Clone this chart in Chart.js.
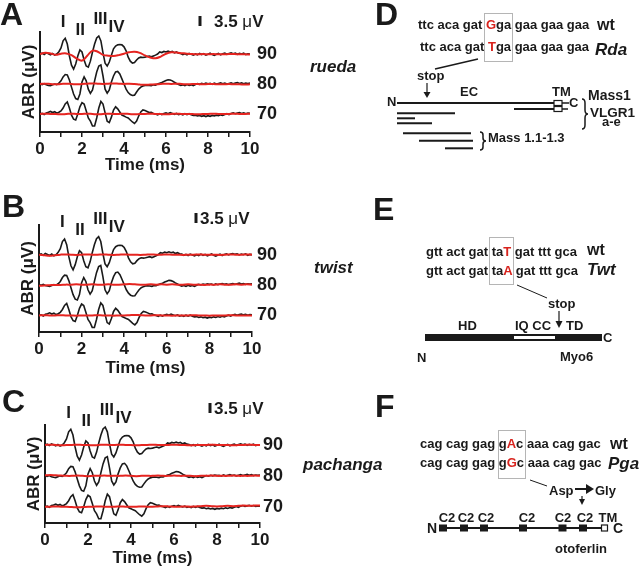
<!DOCTYPE html>
<html>
<head>
<meta charset="utf-8">
<script src="https://cdn.jsdelivr.net/npm/chart.js@4.4.1/dist/chart.umd.min.js"></script>
<style>
  html, body { margin: 0; background: #fff; }
  #fig { position: relative; width: 640px; height: 566px; overflow: hidden; }
  #fig canvas { position: absolute; left: 0; }
  #art { position: absolute; left: 0; top: 0; pointer-events: none; }
  #art text { font-family: 'Liberation Sans', Arial, sans-serif; font-weight: bold; fill: #1a1a1a; }
  #art .it { font-style: italic; }
  #art .mut { fill: #d8231d; }
  #art line, #art path.br { stroke: #1a1a1a; fill: none; }
</style>
</head>
<body>
<div id="fig">
  <canvas id="chartA" width="300" height="185" style="top:0"></canvas>
  <canvas id="chartB" width="300" height="190" style="top:190px"></canvas>
  <canvas id="chartC" width="300" height="191" style="top:375px"></canvas>

  <svg id="art" width="640" height="566">
    <!-- panel letters -->
    <text x="0" y="25" font-size="32">A</text>
    <text x="2" y="217" font-size="32">B</text>
    <text x="2" y="412" font-size="32">C</text>
    <text x="375" y="25" font-size="32">D</text>
    <text x="373" y="220" font-size="32">E</text>
    <text x="375" y="417" font-size="32">F</text>

    <!-- mutant names -->
    <text class="it" x="310" y="72" font-size="17">rueda</text>
    <text class="it" x="314" y="273" font-size="17">twist</text>
    <text class="it" x="303" y="470" font-size="17">pachanga</text>

    <!-- D : Mass1 / VLGR1 -->
    <text x="418" y="29" font-size="13">ttc aca gat <tspan class="mut">G</tspan>ga gaa gaa gaa</text>
    <text x="420" y="51" font-size="13">ttc aca gat <tspan class="mut">T</tspan>ga gaa gaa gaa</text>
    <text x="597" y="30" font-size="16">wt</text>
    <text class="it" x="595" y="55" font-size="17">Rda</text>
    <rect x="484.5" y="13.5" width="28" height="48" fill="none" stroke="#b5b5b5"/>
    <line x1="478" y1="59" x2="435" y2="69" stroke-width="1.5"/>
    <text x="417" y="80" font-size="13">stop</text>
    <line x1="427" y1="83" x2="427" y2="93" stroke-width="1.2"/>
    <path d="M423.5 92 L430.5 92 L427 98 Z" fill="#1a1a1a"/>
    <text x="460" y="96" font-size="13">EC</text>
    <text x="552" y="96" font-size="13">TM</text>
    <text x="387" y="106" font-size="13">N</text>
    <line x1="397" y1="103" x2="554" y2="103" stroke-width="2"/>
    <line x1="514" y1="109" x2="554" y2="109" stroke-width="2"/>
    <rect x="554" y="100.5" width="8" height="5" fill="#fff" stroke="#1a1a1a" stroke-width="1.2"/>
    <rect x="554" y="106.5" width="8" height="5" fill="#fff" stroke="#1a1a1a" stroke-width="1.2"/>
    <line x1="562" y1="103" x2="569" y2="103" stroke-width="1.5"/>
    <line x1="562" y1="109" x2="568" y2="109" stroke-width="1.5"/>
    <text x="569" y="107" font-size="13">C</text>
    <path class="br" stroke-width="1.5" d="M582 99 Q585 99 585 103 L585 110 Q585 114 588 114 Q585 114 585 118 L585 125 Q585 129 582 129"/>
    <text x="588" y="100" font-size="14">Mass1</text>
    <text x="590" y="117" font-size="13.5">VLGR1</text>
    <text x="602" y="126" font-size="13">a-e</text>
    <line x1="397" y1="113.3" x2="455" y2="113.3" stroke-width="2"/>
    <line x1="397" y1="118.3" x2="415" y2="118.3" stroke-width="2"/>
    <line x1="397" y1="123.3" x2="432" y2="123.3" stroke-width="2"/>
    <line x1="403" y1="133.3" x2="471" y2="133.3" stroke-width="2"/>
    <line x1="419" y1="140.7" x2="473" y2="140.7" stroke-width="2"/>
    <line x1="445" y1="148.3" x2="473" y2="148.3" stroke-width="2"/>
    <path class="br" stroke-width="1.5" d="M480 132 Q483 132 483 135 L483 138 Q483 141 486 141 Q483 141 483 144 L483 147 Q483 150 480 150"/>
    <text x="488" y="142" font-size="13">Mass 1.1-1.3</text>

    <!-- E : Myo6 -->
    <text x="426" y="256" font-size="13">gtt act gat ta<tspan class="mut">T</tspan> gat ttt gca</text>
    <text x="426" y="275" font-size="13">gtt act gat ta<tspan class="mut">A</tspan> gat ttt gca</text>
    <text x="587" y="255" font-size="16">wt</text>
    <text class="it" x="587" y="275" font-size="17">Twt</text>
    <rect x="489.5" y="237.5" width="24" height="47" fill="none" stroke="#b5b5b5"/>
    <line x1="517" y1="285" x2="547" y2="298" stroke-width="1"/>
    <text x="548" y="308" font-size="13">stop</text>
    <line x1="559" y1="311" x2="559" y2="322" stroke-width="1.2"/>
    <path d="M555.5 321 L562.5 321 L559 328 Z" fill="#1a1a1a"/>
    <text x="458" y="330" font-size="13">HD</text>
    <text x="515" y="330" font-size="13">IQ CC</text>
    <text x="566" y="330" font-size="13">TD</text>
    <rect x="425" y="334" width="177" height="7" fill="#1a1a1a"/>
    <rect x="514" y="336" width="41" height="3" fill="#fff"/>
    <text x="603" y="342" font-size="13">C</text>
    <text x="417" y="362" font-size="13">N</text>
    <text x="560" y="361" font-size="13">Myo6</text>

    <!-- F : otoferlin -->
    <text x="420" y="448" font-size="13">cag cag gag g<tspan class="mut">A</tspan>c aaa cag gac</text>
    <text x="420" y="467" font-size="13">cag cag gag g<tspan class="mut">G</tspan>c aaa cag gac</text>
    <text x="610" y="449" font-size="16">wt</text>
    <text class="it" x="608" y="469" font-size="17">Pga</text>
    <rect x="498.5" y="430.5" width="27" height="48" fill="none" stroke="#b5b5b5"/>
    <line x1="530" y1="480" x2="547" y2="486" stroke-width="1"/>
    <text x="549" y="495" font-size="13">Asp</text>
    <line x1="575" y1="489" x2="587" y2="489" stroke-width="2"/>
    <path d="M586 484 L594 489 L586 494 Z" fill="#1a1a1a"/>
    <text x="595" y="495" font-size="13">Gly</text>
    <line x1="582" y1="496" x2="582" y2="500" stroke-width="1.2"/>
    <path d="M579 499 L585 499 L582 505 Z" fill="#1a1a1a"/>
    <text x="447" y="522" font-size="13" text-anchor="middle">C2</text>
    <text x="466" y="522" font-size="13" text-anchor="middle">C2</text>
    <text x="486" y="522" font-size="13" text-anchor="middle">C2</text>
    <text x="527" y="522" font-size="13" text-anchor="middle">C2</text>
    <text x="563" y="522" font-size="13" text-anchor="middle">C2</text>
    <text x="585" y="522" font-size="13" text-anchor="middle">C2</text>
    <text x="608" y="522" font-size="13" text-anchor="middle">TM</text>
    <text x="427" y="533" font-size="14">N</text>
    <line x1="439" y1="528" x2="602" y2="528" stroke-width="2"/>
    <rect x="439" y="524.5" width="8" height="7" fill="#1a1a1a"/>
    <rect x="460" y="524.5" width="8" height="7" fill="#1a1a1a"/>
    <rect x="480" y="524.5" width="8" height="7" fill="#1a1a1a"/>
    <rect x="519" y="524.5" width="8" height="7" fill="#1a1a1a"/>
    <rect x="558.5" y="524.5" width="8" height="7" fill="#1a1a1a"/>
    <rect x="579" y="524.5" width="8" height="7" fill="#1a1a1a"/>
    <rect x="601.5" y="525" width="6" height="6" fill="#fff" stroke="#1a1a1a" stroke-width="1.2"/>
    <text x="613" y="533" font-size="14">C</text>
    <text x="555" y="553" font-size="13">otoferlin</text>
  </svg>
</div>

<script>
// time base of the black (wild type) traces, ms
const timeMs = [
  0, 0.1, 0.2, 0.3, 0.4, 0.5, 0.6, 0.7, 0.8, 0.9,
  1, 1.1, 1.2, 1.3, 1.4, 1.5, 1.6, 1.7, 1.8, 1.9,
  2, 2.1, 2.2, 2.3, 2.4, 2.5, 2.6, 2.7, 2.8, 2.9,
  3, 3.1, 3.2, 3.3, 3.4, 3.5, 3.6, 3.7, 3.8, 3.9,
  4, 4.1, 4.2, 4.3, 4.4, 4.5, 4.6, 4.7, 4.8, 4.9,
  5, 5.1, 5.2, 5.3, 5.4, 5.5, 5.6, 5.7, 5.8, 5.9,
  6, 6.1, 6.2, 6.3, 6.4, 6.5, 6.6, 6.7, 6.8, 6.9,
  7, 7.1, 7.2, 7.3, 7.4, 7.5, 7.6, 7.7, 7.8, 7.9,
  8, 8.1, 8.2, 8.3, 8.4, 8.5, 8.6, 8.7, 8.8, 8.9,
  9, 9.1, 9.2, 9.3, 9.4, 9.5, 9.6, 9.7, 9.8, 9.9, 10
];

// time base of the red (mutant) traces, ms
const redTimeMs = [
  0, 0.25, 0.5, 0.75, 1, 1.25, 1.5, 1.75, 2, 2.25,
  2.5, 2.75, 3, 3.25, 3.5, 3.75, 4, 4.25, 4.5, 4.75,
  5, 5.25, 5.5, 5.75, 6, 6.25, 6.5, 6.75, 7, 7.25,
  7.5, 7.75, 8, 8.25, 8.5, 8.75, 9, 9.25, 9.5, 9.75, 10
];

// wild type ABR, uV, at 90 / 80 / 70 dB
const wt90 = [
  0, 0.3, -0.2, 0.4, 0.1, -0.3, 0.2, -0.4, 0.0, 0.8,
  2.1, 4.6, 5.5, 3.5, -0.7, -3.9, -5.3, -3.5, -0.7, 1.4,
  0.7, -2.1, -4.2, -4.6, -2.5, 0.7, 3.5, 5.6, 6.3, 4.6,
  0.4, -3.2, -4.2, -2.8, -0.4, 1.8, 2.8, 3.2, 3.3, 3.2,
  2.5, 1.1, -1.1, -2.5, -3.2, -3.0, -2.1, -1.4, -1.1, -1.2,
  -1.1, -0.9, -0.7, -1.0, -0.7, -0.4, 0.0, 0.7, 0.5, 0.9,
  0.7, 1.0, 0.7, 0.9, 0.4, 0.7, 0.3, 0.2, -0.2, 0.1,
  -0.3, 0.2, -0.1, -0.4, 0.0, -0.3, 0.2, -0.2, 0.1, -0.4,
  -0.1, 0.3, -0.2, -0.5, -0.1, 0.2, -0.3, 0.1, 0.3, -0.1,
  0.2, 0.4, 0.1, 0.3, -0.1, 0.2, 0.0, 0.3, -0.2, 0.1, 0.0
];
const wt80 = [
  0, -0.2, 0.1, -0.3, -0.5, -0.6, -0.3, 0.0, -0.2, 0.3,
  1.1, 2.5, 3.3, 3.2, 1.4, -1.1, -3.5, -5.1, -5.4, -3.5,
  0.7, 2.5, 1.1, -1.8, -3.3, -2.1, 1.1, 4.2, 6.3, 6.7,
  2.8, -1.8, -3.2, -2.1, 0.7, 2.8, 4.2, 4.4, 3.5, 1.8,
  0.0, -1.8, -3.0, -3.7, -4.0, -3.9, -2.8, -1.8, -1.1, -0.7,
  -0.5, -0.4, -0.5, -0.6, -0.3, -0.4, 0.0, 0.3, 0.5, 0.9,
  1.2, 1.5, 1.4, 1.1, 0.6, 0.2, -0.2, -0.5, -0.3, -0.6,
  -0.2, -0.5, -0.3, -0.6, -0.2, 0.1, -0.1, 0.2, 0.0, 0.3,
  0.1, 0.2, -0.1, 0.3, 0.0, 0.2, 0.4, 0.1, 0.3, 0.0,
  0.2, 0.4, 0.1, 0.3, 0.5, 0.2, 0.4, 0.1, 0.3, 0.2, 0.3
];
const wt70 = [
  0, 0.2, -0.2, 0.4, 0.6, 0.9, 0.5, 0.8, 0.3, 0.6,
  1.1, 2.1, 3.5, 4.2, 2.1, -0.4, -1.8, -2.1, 0.0, 2.5,
  4.0, 3.5, 1.1, -1.4, -2.5, -4.2, -4.2, -1.4, 2.1, 4.4,
  3.5, 0.4, -2.5, -3.0, -1.1, 1.4, 2.5, 1.8, 0.7, -0.4,
  -0.7, -1.1, -1.4, -2.1, -2.8, -3.3, -2.5, -0.7, 0.7, 1.4,
  1.2, 0.9, 0.5, 0.6, 0.2, 0.0, -0.3, 0.1, -0.2, 0.2,
  0.4, 0.1, 0.5, 0.2, -0.1, 0.2, -0.2, 0.0, -0.3, 0.1,
  -0.2, 0.1, -0.3, -0.5, -0.4, -0.7, -0.5, -0.8, -0.6, -0.9,
  -0.6, -0.8, -0.5, -0.7, -0.4, -0.6, -0.3, -0.5, -0.2, 0.1,
  -0.2, 0.2, 0.4, 0.1, 0.3, 0.5, 0.2, 0.4, 0.1, 0.3, 0.2
];

// mutant ABR, uV
const rueda90 = [
  0, 0.4, 0.2, -0.3, 0.1, 0.2, -0.4, -1.6, -2.3, -0.6,
  1.2, 0.8, -0.3, -0.6, -0.7, -0.4, 0.1, 0.6, 0.8, 0.4,
  -0.5, -1.2, -1.5, -0.9, 0.1, 0.6, 0.5, 0.3, 0.1, 0,
  -0.1, 0, -0.1, 0, -0.1, -0.1, 0, 0, -0.1, -0.1, -0.2
];
const rueda80 = [
  0, 0.1, 0, -0.1, 0, 0.1, 0, -0.1, 0, 0.1,
  0.2, 0.1, 0, 0.1, 0.2, 0.1, 0, 0.1, 0, -0.2,
  -0.3, -0.2, -0.1, 0, 0.1, 0, 0.1, 0, -0.1, 0,
  0, -0.1, 0, 0, -0.1, -0.1, 0, -0.1, -0.1, -0.2, -0.1
];
const rueda70 = [
  0, 0.1, 0, 0, -0.1, 0, 0.1, 0, 0, 0.1,
  0, -0.1, 0, 0.1, 0, 0, 0.1, 0, -0.1, 0,
  0, 0.1, 0, 0, -0.1, 0, 0.1, 0, 0, 0,
  -0.1, 0, 0, 0.1, 0, 0, 0, 0.1, 0, 0, 0.1
];
const twist90 = [
  0, -0.2, -0.4, -0.2, 0, 0.1, 0, -0.1, 0, 0.1,
  0, 0, 0.1, 0, -0.1, 0, 0.1, 0, 0, -0.1,
  0, 0.1, 0, 0, 0.1, 0, 0, -0.1, 0, 0,
  0.1, 0, 0, 0, -0.1, 0, 0.1, 0, 0, 0.1, 0
];
const twist80 = [
  -0.4, -0.3, -0.2, -0.1, -0.1, 0, 0, 0.1, 0, 0,
  0.1, 0, 0, 0.1, 0, 0, 0.1, 0.2, 0.1, 0,
  0, 0.1, 0, 0.1, 0, 0.1, 0, 0, 0.1, 0,
  0, -0.1, 0, 0, 0.1, 0, 0, 0.1, 0, 0.1, 0
];
const twist70 = [
  0, 0.1, 0, 0, 0.1, 0, 0, -0.1, 0, 0,
  0, 0.1, 0, 0, -0.1, 0, 0, 0.1, 0.2, 0.1,
  0, 0, 0.1, 0, 0, -0.1, 0, 0, 0, 0.1,
  0, 0, -0.1, 0, 0, 0, 0.1, 0, 0, 0, 0
];
const pachanga90 = [
  0, 0.1, 0, -0.1, 0, 0, 0.1, 0, 0, -0.1,
  0, 0.1, 0, 0, 0.1, 0, 0, -0.1, 0, 0,
  0.1, 0, 0, 0, 0.1, 0, 0, -0.1, 0, 0,
  0, 0.1, 0, 0, 0, -0.1, 0, 0, 0.1, 0, 0
];
const pachanga80 = [
  0.2, 0.3, 0.2, 0.1, 0, 0, 0.1, 0, -0.1, 0,
  0, 0.1, 0, 0, 0, 0.1, 0, -0.1, 0, 0,
  0, 0.1, 0, 0, 0.1, 0, 0, 0, -0.1, 0,
  0, 0.1, 0, 0, 0, 0.1, 0, 0, 0, 0.1, 0
];
const pachanga70 = [
  0, 0, 0.1, 0, 0, -0.1, -0.2, -0.1, 0, 0,
  0.1, 0, 0, 0, 0.1, 0, 0, 0, 0.1, 0,
  0, 0.1, 0.2, 0.1, 0, 0, 0.1, 0, 0.1, 0.2,
  0.3, 0.2, 0.1, 0.2, 0.3, 0.2, 0.3, 0.4, 0.3, 0.4, 0.4
];

const levelLabels = ['90', '80', '70'];
const peakNames   = ['I', 'II', 'III', 'IV'];
const peakTimes   = [1.1, 1.92, 2.88, 3.65];
const barMicroV   = 3.5;
const barLabel    = ['3.5 ', '\u03bc', 'V'];

const FONT = "'Liberation Sans', Arial, sans-serif";
const INK = '#1a1a1a';
const RED = '#e52420';
const peakLift = [-32, -24, -35, -27];   // px above the 90 dB trace

Chart.defaults.font.family = FONT;
Chart.defaults.font.weight = 'bold';
Chart.defaults.color = INK;

const toPoints = (times, vals, off) =>
    vals.map((v, i) => ({ x: times[i], y: Math.round((v + off) * 100) / 100 }));

const panelDecor = {
    id: 'panelDecor',
    afterDatasetsDraw(chart, args, opts) {
        const { ctx, chartArea, scales: { x, y } } = chart;
        ctx.save();
        ctx.fillStyle = INK;
        ctx.strokeStyle = INK;
        ctx.textBaseline = 'middle';

        ctx.font = `bold 18px ${FONT}`;
        ctx.textAlign = 'left';
        levelLabels.forEach((lab, i) => {
            ctx.fillText(lab, chartArea.right + opts.levelGap, y.getPixelForValue(opts.offsets[i]));
        });

        ctx.font = `bold 17px ${FONT}`;
        ctx.textAlign = 'center';
        const top = y.getPixelForValue(opts.offsets[0]);
        peakNames.forEach((p, i) => {
            ctx.fillText(p, x.getPixelForValue(peakTimes[i]), top + peakLift[i]);
        });

        // 3.5 uV scale bar
        const bx = Math.round(x.getPixelForValue(opts.bar.t));
        const b0 = y.getPixelForValue(opts.bar.base);
        const b1 = y.getPixelForValue(opts.bar.base + barMicroV);
        ctx.lineWidth = 3;
        ctx.beginPath();
        ctx.moveTo(bx, b0);
        ctx.lineTo(bx, b1);
        ctx.stroke();
        ctx.textAlign = 'left';
        let tx = bx + opts.bar.gap;
        const ty = (b0 + b1) / 2 + 1;
        barLabel.forEach((part, i) => {
            ctx.font = `${i === 1 ? 'normal' : 'bold'} 17px ${FONT}`;
            ctx.fillText(part, tx, ty);
            tx += ctx.measureText(part).width;
        });
        ctx.restore();
    }
};

const panels = [
    { id: 'chartA', red: [rueda90, rueda80, rueda70], offsets: [27.3, 16.8, 6.3], yMax: 35,
      pad: { left: 10, right: 50, top: 32 }, xHeight: 53, titlePad: 9, levelGap: 7,
      bar: { t: 7.62, base: 37.1, gap: 14 } },
    { id: 'chartB', red: [twist90, twist80, twist70], offsets: [27.1, 16.6, 5.8], yMax: 37.5,
      pad: { left: 9, right: 48, top: 35 }, xHeight: 48, titlePad: 1, levelGap: 5,
      bar: { t: 7.37, base: 38.2, gap: 4 } },
    { id: 'chartC', red: [pachanga90, pachanga80, pachanga70], offsets: [27.3, 16.5, 5.7], yMax: 34.3,
      pad: { left: 15, right: 40, top: 50 }, xHeight: 43, titlePad: -3, levelGap: 3,
      bar: { t: 7.67, base: 38.5, gap: 4 } },
];

const wtTraces = [wt90, wt80, wt70];

panels.forEach(panel => {
    const datasets = [];
    panel.red.forEach((vals, i) => datasets.push({
        data: toPoints(redTimeMs, vals, panel.offsets[i]),
        borderColor: RED, borderWidth: 2, pointRadius: 0, tension: 0.4,
    }));
    wtTraces.forEach((vals, i) => datasets.push({
        data: toPoints(timeMs, vals, panel.offsets[i]),
        borderColor: INK, borderWidth: 1.6, pointRadius: 0, tension: 0,
    }));

    new Chart(document.getElementById(panel.id), {
        type: 'line',
        data: { datasets },
        plugins: [panelDecor],
        options: {
            responsive: false,
            animation: false,
            events: [],
            layout: { padding: { left: panel.pad.left, right: panel.pad.right, top: panel.pad.top, bottom: 0 } },
            plugins: {
                legend: { display: false },
                tooltip: { enabled: false },
                panelDecor: { offsets: panel.offsets, levelGap: panel.levelGap, bar: panel.bar },
            },
            scales: {
                x: {
                    type: 'linear', min: 0, max: 10,
                    afterFit: (scale) => { scale.height = panel.xHeight; },
                    border: { display: true, color: INK, width: 2 },
                    grid: { drawOnChartArea: false, drawTicks: true, tickLength: 5, color: INK, lineWidth: 1.5 },
                    ticks: {
                        stepSize: 1, autoSkip: false, maxRotation: 0, padding: 2,
                        font: { size: 17, weight: 'bold' }, color: INK,
                        callback: (v) => (v % 2 === 0 ? v : ''),
                    },
                    title: {
                        display: true, text: 'Time (ms)', color: INK,
                        font: { size: 17, weight: 'bold' },
                        padding: { top: 0, bottom: panel.titlePad },
                    },
                },
                y: {
                    type: 'linear', min: 0, max: panel.yMax,
                    afterFit: (scale) => { scale.width = 30; },
                    border: { display: true, color: INK, width: 2 },
                    grid: { display: false },
                    ticks: { display: false },
                    title: {
                        display: true, text: 'ABR (\u03bcV)', color: INK,
                        font: { size: 17, weight: 'bold' },
                        padding: { top: 9, bottom: 0 },
                    },
                },
            },
        },
    });
});
</script>
</body>
</html>
